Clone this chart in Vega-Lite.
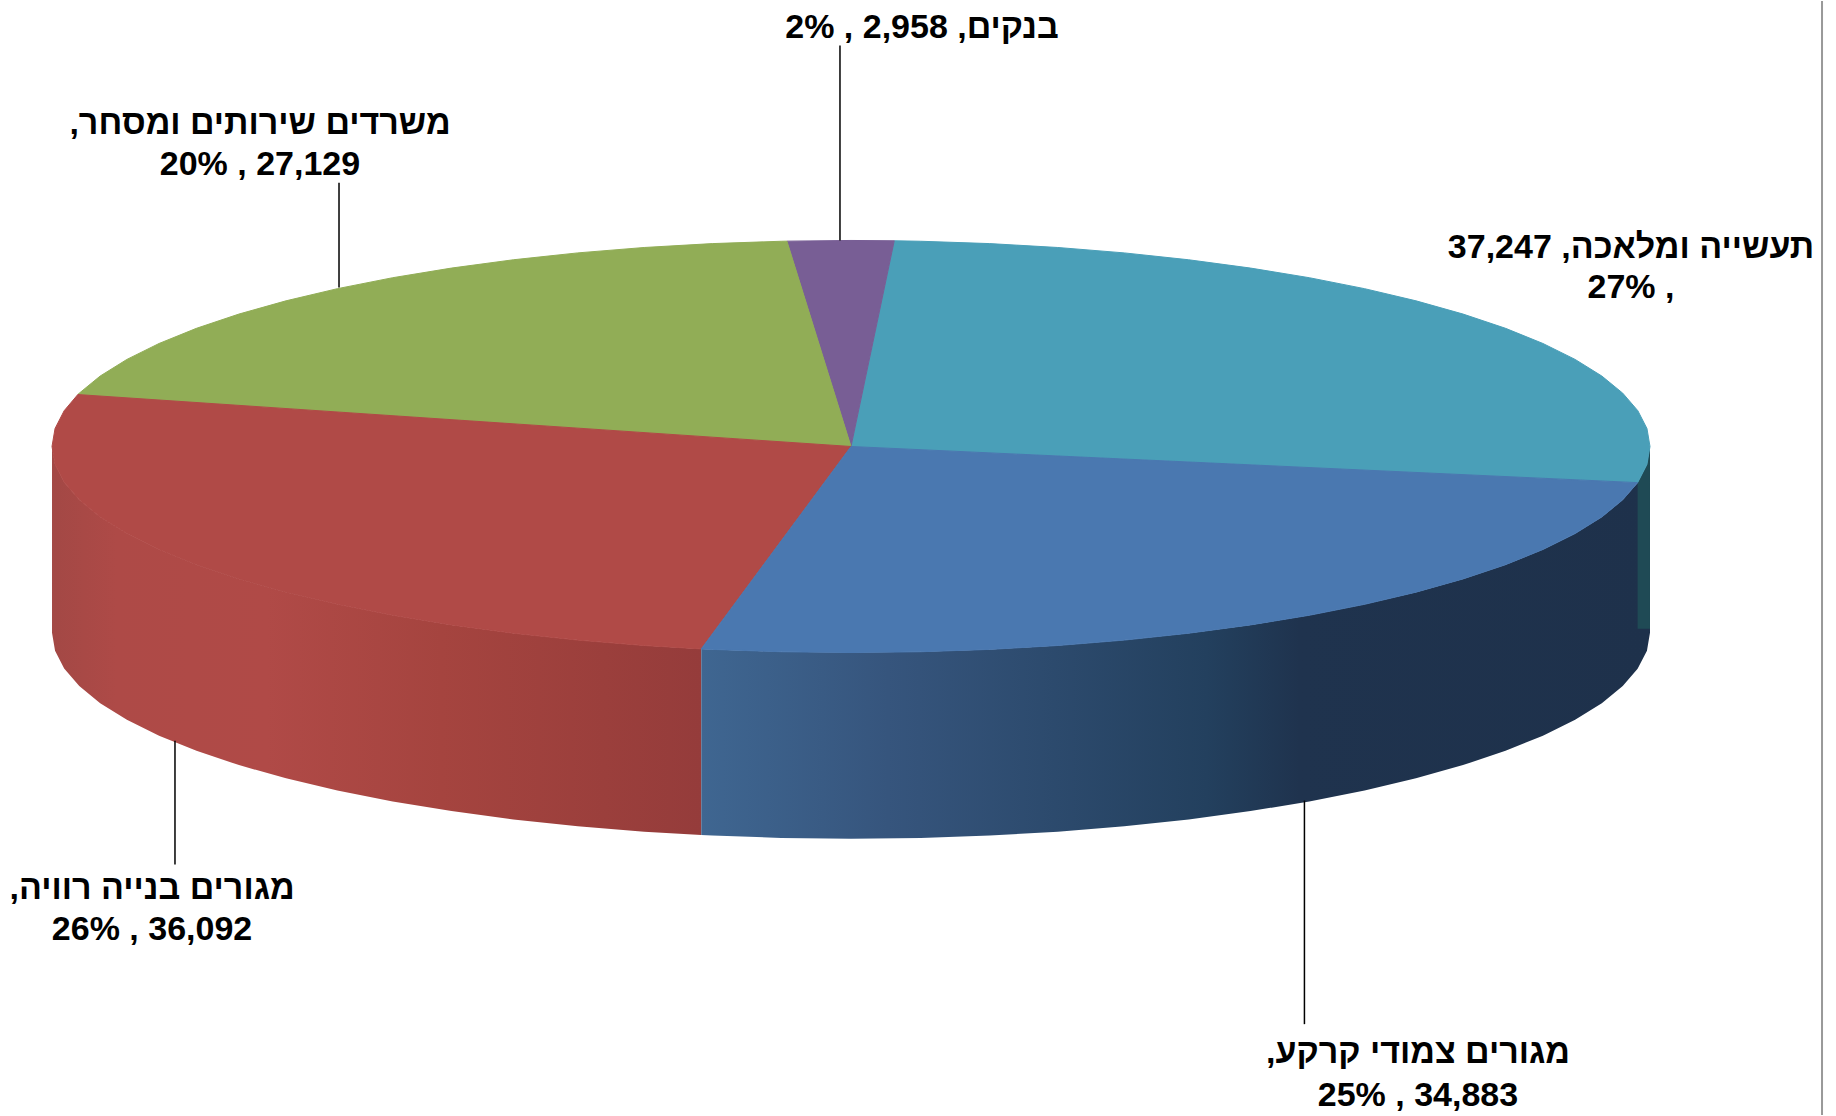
{
"$schema":"https://vega.github.io/schema/vega-lite/v6.json",
"width":1836,"height":1116,"padding":0,
"autosize":{"type":"fit","contains":"padding"},
"background":"white",
"view":{"stroke":null},
"datasets":{
"top":[
{"s":"industry","i":0,"x":0,"y":0},{"s":"industry","i":1,"x":0.9845,"y":-0.1754},{"s":"industry","i":2,"x":0.9962,"y":-0.0872},{"s":"industry","i":3,"x":1,"y":0},{"s":"industry","i":4,"x":0.9962,"y":0.0872},{"s":"industry","i":5,"x":0.9848,"y":0.1736},{"s":"industry","i":6,"x":0.9659,"y":0.2588},{"s":"industry","i":7,"x":0.9397,"y":0.342},{"s":"industry","i":8,"x":0.9063,"y":0.4226},{"s":"industry","i":9,"x":0.866,"y":0.5},{"s":"industry","i":10,"x":0.8192,"y":0.5736},{"s":"industry","i":11,"x":0.766,"y":0.6428},{"s":"industry","i":12,"x":0.7071,"y":0.7071},{"s":"industry","i":13,"x":0.6428,"y":0.766},{"s":"industry","i":14,"x":0.5736,"y":0.8192},{"s":"industry","i":15,"x":0.5,"y":0.866},{"s":"industry","i":16,"x":0.4226,"y":0.9063},{"s":"industry","i":17,"x":0.342,"y":0.9397},{"s":"industry","i":18,"x":0.2588,"y":0.9659},{"s":"industry","i":19,"x":0.1736,"y":0.9848},{"s":"industry","i":20,"x":0.0872,"y":0.9962},{"s":"industry","i":21,"x":0.0541,"y":0.9985},{"s":"industry","i":22,"x":0,"y":0},
{"s":"banks","i":0,"x":0,"y":0},{"s":"banks","i":1,"x":0.0541,"y":0.9985},{"s":"banks","i":2,"x":0,"y":1},{"s":"banks","i":3,"x":-0.0802,"y":0.9968},{"s":"banks","i":4,"x":0,"y":0},
{"s":"offices","i":0,"x":0,"y":0},{"s":"offices","i":1,"x":-0.0802,"y":0.9968},{"s":"offices","i":2,"x":-0.0872,"y":0.9962},{"s":"offices","i":3,"x":-0.1736,"y":0.9848},{"s":"offices","i":4,"x":-0.2588,"y":0.9659},{"s":"offices","i":5,"x":-0.342,"y":0.9397},{"s":"offices","i":6,"x":-0.4226,"y":0.9063},{"s":"offices","i":7,"x":-0.5,"y":0.866},{"s":"offices","i":8,"x":-0.5736,"y":0.8192},{"s":"offices","i":9,"x":-0.6428,"y":0.766},{"s":"offices","i":10,"x":-0.7071,"y":0.7071},{"s":"offices","i":11,"x":-0.766,"y":0.6428},{"s":"offices","i":12,"x":-0.8192,"y":0.5736},{"s":"offices","i":13,"x":-0.866,"y":0.5},{"s":"offices","i":14,"x":-0.9063,"y":0.4226},{"s":"offices","i":15,"x":-0.9397,"y":0.342},{"s":"offices","i":16,"x":-0.9659,"y":0.2588},{"s":"offices","i":17,"x":-0.9677,"y":0.2521},{"s":"offices","i":18,"x":0,"y":0},
{"s":"apartments","i":0,"x":0,"y":0},{"s":"apartments","i":1,"x":-0.9677,"y":0.2521},{"s":"apartments","i":2,"x":-0.9848,"y":0.1736},{"s":"apartments","i":3,"x":-0.9962,"y":0.0872},{"s":"apartments","i":4,"x":-1,"y":0},{"s":"apartments","i":5,"x":-0.9962,"y":-0.0872},{"s":"apartments","i":6,"x":-0.9848,"y":-0.1736},{"s":"apartments","i":7,"x":-0.9659,"y":-0.2588},{"s":"apartments","i":8,"x":-0.9397,"y":-0.342},{"s":"apartments","i":9,"x":-0.9063,"y":-0.4226},{"s":"apartments","i":10,"x":-0.866,"y":-0.5},{"s":"apartments","i":11,"x":-0.8192,"y":-0.5736},{"s":"apartments","i":12,"x":-0.766,"y":-0.6428},{"s":"apartments","i":13,"x":-0.7071,"y":-0.7071},{"s":"apartments","i":14,"x":-0.6428,"y":-0.766},{"s":"apartments","i":15,"x":-0.5736,"y":-0.8192},{"s":"apartments","i":16,"x":-0.5,"y":-0.866},{"s":"apartments","i":17,"x":-0.4226,"y":-0.9063},{"s":"apartments","i":18,"x":-0.342,"y":-0.9397},{"s":"apartments","i":19,"x":-0.2588,"y":-0.9659},{"s":"apartments","i":20,"x":-0.1874,"y":-0.9823},{"s":"apartments","i":21,"x":0,"y":0},
{"s":"houses","i":0,"x":0,"y":0},{"s":"houses","i":1,"x":-0.1874,"y":-0.9823},{"s":"houses","i":2,"x":-0.1736,"y":-0.9848},{"s":"houses","i":3,"x":-0.0872,"y":-0.9962},{"s":"houses","i":4,"x":0,"y":-1},{"s":"houses","i":5,"x":0.0872,"y":-0.9962},{"s":"houses","i":6,"x":0.1736,"y":-0.9848},{"s":"houses","i":7,"x":0.2588,"y":-0.9659},{"s":"houses","i":8,"x":0.342,"y":-0.9397},{"s":"houses","i":9,"x":0.4226,"y":-0.9063},{"s":"houses","i":10,"x":0.5,"y":-0.866},{"s":"houses","i":11,"x":0.5736,"y":-0.8192},{"s":"houses","i":12,"x":0.6428,"y":-0.766},{"s":"houses","i":13,"x":0.7071,"y":-0.7071},{"s":"houses","i":14,"x":0.766,"y":-0.6428},{"s":"houses","i":15,"x":0.8192,"y":-0.5736},{"s":"houses","i":16,"x":0.866,"y":-0.5},{"s":"houses","i":17,"x":0.9063,"y":-0.4226},{"s":"houses","i":18,"x":0.9397,"y":-0.342},{"s":"houses","i":19,"x":0.9659,"y":-0.2588},{"s":"houses","i":20,"x":0.9845,"y":-0.1754},{"s":"houses","i":21,"x":0,"y":0}
],
"sideRed":[
{"x":-1,"y":0,"y2":-0.9036},{"x":-0.9962,"y":-0.0872,"y2":-0.9908},{"x":-0.9848,"y":-0.1736,"y2":-1.0772},{"x":-0.9659,"y":-0.2588,"y2":-1.1624},{"x":-0.9397,"y":-0.342,"y2":-1.2456},{"x":-0.9063,"y":-0.4226,"y2":-1.3262},{"x":-0.866,"y":-0.5,"y2":-1.4036},{"x":-0.8192,"y":-0.5736,"y2":-1.4772},{"x":-0.766,"y":-0.6428,"y2":-1.5464},{"x":-0.7071,"y":-0.7071,"y2":-1.6107},{"x":-0.6428,"y":-0.766,"y2":-1.6696},{"x":-0.5736,"y":-0.8192,"y2":-1.7228},{"x":-0.5,"y":-0.866,"y2":-1.7696},{"x":-0.4226,"y":-0.9063,"y2":-1.8099},{"x":-0.342,"y":-0.9397,"y2":-1.8433},{"x":-0.2588,"y":-0.9659,"y2":-1.8695},{"x":-0.1874,"y":-0.9823,"y2":-1.8859}
],
"sideBlue":[
{"x":-0.1874,"y":-0.9823,"y2":-1.8859},{"x":-0.1736,"y":-0.9848,"y2":-1.8884},{"x":-0.0872,"y":-0.9962,"y2":-1.8998},{"x":0,"y":-1,"y2":-1.9036},{"x":0.0872,"y":-0.9962,"y2":-1.8998},{"x":0.1736,"y":-0.9848,"y2":-1.8884},{"x":0.2588,"y":-0.9659,"y2":-1.8695},{"x":0.342,"y":-0.9397,"y2":-1.8433},{"x":0.4226,"y":-0.9063,"y2":-1.8099},{"x":0.5,"y":-0.866,"y2":-1.7696},{"x":0.5736,"y":-0.8192,"y2":-1.7228},{"x":0.6428,"y":-0.766,"y2":-1.6696},{"x":0.7071,"y":-0.7071,"y2":-1.6107},{"x":0.766,"y":-0.6428,"y2":-1.5464},{"x":0.8192,"y":-0.5736,"y2":-1.4772},{"x":0.866,"y":-0.5,"y2":-1.4036},{"x":0.9063,"y":-0.4226,"y2":-1.3262},{"x":0.9397,"y":-0.342,"y2":-1.2456},{"x":0.9659,"y":-0.2588,"y2":-1.1624},{"x":0.9845,"y":-0.1754,"y2":-1.079},{"x":0.9962,"y":-0.0872,"y2":-0.9908},{"x":1,"y":0,"y2":-0.9036}
],
"sideTeal":[
{"x":0.9845,"y":-0.1754,"y2":-0.885},{"x":0.9962,"y":-0.0872,"y2":-0.885},{"x":1,"y":0,"y2":-0.885}
],
"leaders":[
{"s":"banks","x":-0.0138,"y":1.9467,"y2":0.9995},
{"s":"offices","x":-0.6408,"y":1.2805,"y2":0.7718},
{"s":"apartments","x":-0.8461,"y":-1.4278,"y2":-2.0286},
{"s":"houses","x":0.5675,"y":-1.7185,"y2":-2.8038}
],
"edge":[{"x":1.2153,"y":2.1623,"y2":-3.2447}],
"labels":[
{"s":"banks","value":2958,"pct":2,"x":0.0889,"y":1.9811,"t":"\u202bבנקים, 2,958 , 2%\u202c"},
{"s":"offices","value":27129,"pct":20,"x":-0.7397,"y":1.5155,"t":"\u202bמשרדים שירותים ומסחר,\u202c"},
{"s":"offices","value":27129,"pct":20,"x":-0.7397,"y":1.3193,"t":"\u202b27,129 , 20%\u202c"},
{"s":"industry","value":37247,"pct":27,"x":0.9762,"y":0.9172,"t":"\u202bתעשייה ומלאכה, 37,247\u202c"},
{"s":"industry","value":37247,"pct":27,"x":0.9762,"y":0.7185,"t":"\u202b, 27%\u202c"},
{"s":"apartments","value":36092,"pct":26,"x":-0.8748,"y":-2.1962,"t":"\u202bמגורים בנייה רוויה,\u202c"},
{"s":"apartments","value":36092,"pct":26,"x":-0.8748,"y":-2.3968,"t":"\u202b36,092 , 26%\u202c"},
{"s":"houses","value":34883,"pct":25,"x":0.7096,"y":-2.9927,"t":"\u202bמגורים צמודי קרקע,\u202c"},
{"s":"houses","value":34883,"pct":25,"x":0.7096,"y":-3.201,"t":"\u202b34,883 , 25%\u202c"}
]
},
"encoding":{
"x":{"field":"x","type":"quantitative","axis":null,"scale":{"domain":[-1.0651,1.2328],"nice":false,"zero":false}},
"y":{"field":"y","type":"quantitative","axis":null,"scale":{"domain":[-3.2447,2.1623],"nice":false,"zero":false}}
},
"layer":[
{"data":{"name":"sideRed"},
 "mark":{"type":"area","orient":"vertical","color":{"gradient":"linear","x1":0,"y1":0,"x2":1,"y2":0,"stops":[{"offset":0,"color":"#A34845"},{"offset":0.1,"color":"#AE4A47"},{"offset":0.33,"color":"#B04A47"},{"offset":0.6,"color":"#A5443F"},{"offset":0.85,"color":"#9B3F3C"},{"offset":1,"color":"#953C3B"}]}},
 "encoding":{"y2":{"field":"y2"}}},
{"data":{"name":"sideBlue"},
 "mark":{"type":"area","orient":"vertical","color":{"gradient":"linear","x1":0,"y1":0,"x2":1,"y2":0,"stops":[{"offset":0,"color":"#3F6691"},{"offset":0.197,"color":"#36557D"},{"offset":0.533,"color":"#23405E"},{"offset":0.631,"color":"#1F334E"},{"offset":1,"color":"#1E314B"}]}},
 "encoding":{"y2":{"field":"y2"}}},
{"data":{"name":"sideTeal"},
 "mark":{"type":"area","orient":"vertical","color":"#1F4A55"},
 "encoding":{"y2":{"field":"y2"}}},
{"data":{"name":"top"},
 "mark":{"type":"line","strokeWidth":1,"strokeJoin":"round"},
 "encoding":{
  "order":{"field":"i","type":"quantitative"},
  "fill":{"field":"s","type":"nominal","legend":null,"scale":{"domain":["industry","banks","offices","apartments","houses"],"range":["#4A9FB8","#785E95","#91AD56","#B04A47","#4A78B0"]}},
  "stroke":{"field":"s","type":"nominal","legend":null,"scale":{"domain":["industry","banks","offices","apartments","houses"],"range":["#4A9FB8","#785E95","#91AD56","#B04A47","#4A78B0"]}}
 }},
{"data":{"name":"leaders"},
 "mark":{"type":"rule","color":"#000000","strokeWidth":1.5},
 "encoding":{"y2":{"field":"y2"}}},
{"data":{"name":"edge"},
 "mark":{"type":"rule","color":"#999999","strokeWidth":2},
 "encoding":{"y2":{"field":"y2"}}},
{"data":{"name":"labels"},
 "mark":{"type":"text","font":"Liberation Sans","fontWeight":"bold","fontSize":34,"align":"center","baseline":"alphabetic","color":"#000000"},
 "encoding":{"text":{"field":"t"}}}
]
}
